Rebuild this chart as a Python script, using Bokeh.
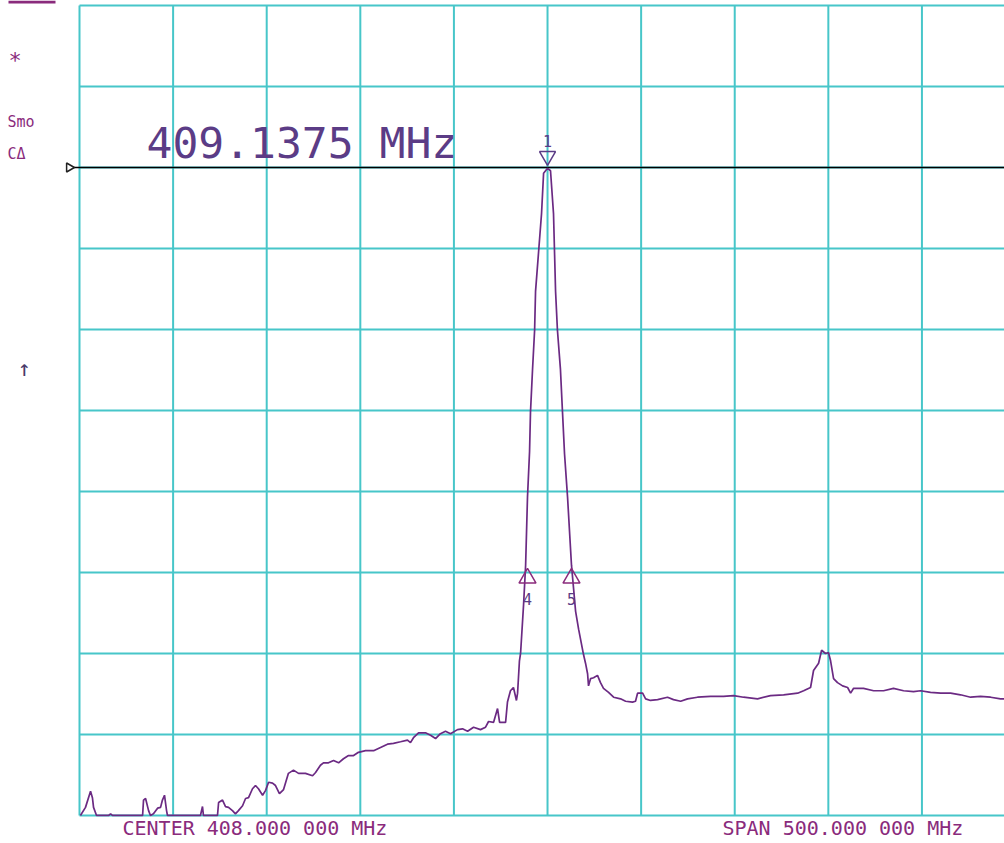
from bokeh.plotting import figure
from bokeh.models import Range1d, Label, BoxAnnotation
from bokeh.core.properties import value
from bokeh.embed import file_html
from bokeh.resources import INLINE

# ---- data (frequency in MHz, level in dB, 10 dB/div, top of screen = 0 dB) ----
center_mhz = 408.0
span_mhz = 500.0
freq_ticks = [158, 208, 258, 308, 358, 408, 458, 508, 558, 608, 658]
level_ticks = [-100, -90, -80, -70, -60, -50, -40, -30, -20, -10, 0]
ref_level = -20.0

trace_freq = [
    158.5, 161.2, 163.9, 164.9, 165.5, 167.1, 173.5, 174.6, 175.6, 191.7,
    192.2, 193.3, 194.9, 195.9, 197.5, 199.7, 201.3, 202.3, 203.4, 204.5,
    205.0, 222.6, 223.7, 224.2, 231.7, 232.3, 234.4, 236.0, 237.6, 239.7,
    241.3, 242.9, 245.1, 246.7, 248.3, 250.4, 252.0, 253.6, 255.8, 257.4,
    259.0, 261.1, 262.7, 264.8, 267.0, 269.6, 272.3, 275.0, 278.7, 282.5,
    284.1, 286.7, 288.3, 291.0, 293.7, 296.4, 299.0, 301.7, 304.4, 307.0,
    310.8, 315.1, 318.8, 322.5, 325.7, 329.5, 333.2, 334.8, 336.4, 339.1,
    342.8, 345.5, 348.2, 350.8, 353.5, 356.2, 359.9, 362.6, 365.3, 368.5,
    372.2, 374.9, 376.5, 379.2, 381.3, 382.4, 385.6, 386.6, 388.2, 389.8,
    391.4, 392.0, 393.0, 393.6, 395.2, 396.3, 397.3, 398.4, 398.9, 400.0,
    401.1, 401.6, 403.2, 404.8, 405.9, 408.0, 409.6, 411.2, 412.3, 413.3,
    414.9, 416.0, 417.1, 418.7, 420.8, 423.0, 424.6, 427.2, 428.3, 429.4,
    429.9, 431.0, 432.6, 434.7, 436.3, 437.9, 440.6, 443.3, 447.0, 449.7,
    453.4, 455.0, 456.1, 458.8, 460.4, 463.0, 466.8, 472.1, 475.3, 479.1,
    482.8, 488.1, 495.1, 502.0, 507.4, 512.7, 520.2, 527.1, 534.1, 541.6,
    544.8, 548.5, 550.1, 552.8, 554.4, 556.5, 558.1, 559.2, 560.8, 562.9,
    565.6, 568.3, 569.9, 571.5, 576.8, 582.2, 587.5, 592.8, 598.2, 603.5,
    607.3, 612.6, 618.0, 623.3, 628.6, 634.0, 639.3, 644.7, 650.0, 652.1,
]
trace_level = [
    -100.0, -99.0, -97.0, -97.8, -99.0, -100.0, -100.0, -99.8, -100.0, -100.0,
    -98.1, -97.9, -99.4, -100.0, -99.8, -99.1, -99.0, -98.1, -97.5, -99.4,
    -100.0, -100.0, -98.9, -100.0, -100.0, -98.4, -98.1, -98.9, -99.0, -99.4,
    -99.8, -99.4, -98.8, -97.9, -97.8, -96.7, -96.3, -96.7, -97.5, -96.9,
    -95.9, -96.0, -96.3, -97.3, -96.8, -94.8, -94.4, -94.8, -94.8, -95.1,
    -94.7, -93.8, -93.5, -93.5, -93.2, -93.5, -93.0, -92.6, -92.6, -92.2,
    -92.0, -92.0, -91.6, -91.2, -91.1, -90.9, -90.7, -91.0, -90.4, -89.8,
    -89.8, -90.1, -90.5, -89.9, -89.6, -89.9, -89.4, -89.3, -89.6, -89.1,
    -89.4, -89.1, -88.4, -88.5, -86.8, -88.5, -88.5, -86.0, -84.6, -84.2,
    -85.8, -84.9, -80.9, -80.0, -74.0, -69.1, -60.7, -55.1, -50.2, -44.9,
    -40.1, -35.3, -30.5, -25.7, -20.7, -20.1, -20.4, -25.7, -35.3, -40.1,
    -44.9, -50.2, -55.4, -60.7, -69.1, -74.8, -77.0, -80.1, -81.2, -82.5,
    -84.0, -83.1, -83.0, -82.7, -83.6, -84.3, -84.8, -85.4, -85.6, -85.9,
    -86.0, -85.9, -84.9, -84.9, -85.6, -85.8, -85.7, -85.4, -85.7, -85.9,
    -85.6, -85.4, -85.3, -85.3, -85.2, -85.4, -85.6, -85.2, -85.1, -84.9,
    -84.6, -84.2, -82.1, -81.2, -79.6, -80.0, -79.9, -80.9, -83.1, -83.6,
    -84.0, -84.2, -84.9, -84.3, -84.3, -84.6, -84.6, -84.3, -84.6, -84.7,
    -84.6, -84.8, -84.9, -84.9, -85.1, -85.4, -85.3, -85.4, -85.6, -85.6,
]

marker_names = ["1", "4", "5"]
marker_freq = [408.0, 397.3, 420.8]
marker_level = [-20.1, -69.1, -69.1]
marker_dir = ["down", "up", "up"]
marker_readout = "409.1375 MHz"

# ---- styling ----
GRID = "#47c6c9"
TRACE = "#6b2a83"
TEXT = "#8a2b7c"
READOUT = "#5b3c86"
MONO = "DejaVu Sans Mono"

p = figure(width=1004, height=843,
           x_range=Range1d(115.8, 652.1), y_range=Range1d(-103.46, 0.617),
           output_backend="svg", toolbar_location=None,
           x_axis_location=None, y_axis_location=None, min_border=0)
p.outline_line_color = None
p.grid.visible = False
p.background_fill_color = "white"
p.border_fill_color = "white"

# graticule
p.segment(x0=freq_ticks, x1=freq_ticks,
          y0=[level_ticks[0]] * len(freq_ticks), y1=[level_ticks[-1]] * len(freq_ticks),
          line_color=GRID, line_width=2)
p.segment(x0=[freq_ticks[0]] * len(level_ticks), x1=[freq_ticks[-1]] * len(level_ticks),
          y0=level_ticks, y1=level_ticks, line_color=GRID, line_width=2)

# reference line with its left marker
p.segment(x0=[153.5], x1=[freq_ticks[-1]], y0=[ref_level], y1=[ref_level],
          line_color="black", line_width=1.5)
p.scatter(x=[152.5], y=[ref_level], marker="triangle", angle=-1.5708, size=9,
          fill_color="white", line_color="#222222", line_width=1.5)

# trace
p.line(trace_freq, trace_level, line_color=TRACE, line_width=1.7)

# markers
down_x = [f for f, d in zip(marker_freq, marker_dir) if d == "down"]
down_y = [l + 1.5 for l, d in zip(marker_level, marker_dir) if d == "down"]
up_x = [f for f, d in zip(marker_freq, marker_dir) if d == "up"]
up_y = [l - 1.6 for l, d in zip(marker_level, marker_dir) if d == "up"]
p.scatter(down_x, down_y, marker="inverted_triangle", size=16,
          fill_color=None, line_color=READOUT, line_width=1.5)
p.scatter(up_x, up_y, marker="triangle", size=17,
          fill_color=None, line_color=TEXT, line_width=1.5)
lab_y = [l + 3.4 if d == "down" else l - 4.2 for l, d in zip(marker_level, marker_dir)]
p.text(x=marker_freq, y=lab_y, text=marker_names, text_font=value(MONO),
       text_font_size="15px", text_color=READOUT, text_align="center",
       text_baseline="middle")

# readout
p.add_layout(Label(x=146, y=843 - 167, x_units="screen", y_units="screen",
                   text=marker_readout, text_font=MONO, text_font_size="43px",
                   text_color=READOUT, text_baseline="bottom"))

# bottom annotations
p.add_layout(Label(x=122, y=843 - 839, x_units="screen", y_units="screen",
                   text="CENTER %.3f 000 MHz" % center_mhz, text_font=MONO,
                   text_font_size="20px", text_color=TEXT, text_baseline="bottom"))
p.add_layout(Label(x=722, y=843 - 839, x_units="screen", y_units="screen",
                   text="SPAN %.3f 000 MHz" % span_mhz, text_font=MONO,
                   text_font_size="20px", text_color=TEXT, text_baseline="bottom"))

# left side annotations
p.add_layout(BoxAnnotation(left=8, right=55, top=843, bottom=840,
                           left_units="screen", right_units="screen",
                           top_units="screen", bottom_units="screen",
                           fill_color=TEXT, fill_alpha=1.0, line_color=None))
for txt, x, y, size, col in [("*", 8, 72, "22px", TEXT), ("Smo", 7, 130, "15px", TEXT),
                             ("CΔ", 7, 162, "15px", TEXT), ("↑", 17, 380, "22px", "#4a3a6a")]:
    p.add_layout(Label(x=x, y=843 - y, x_units="screen", y_units="screen", text=txt,
                       text_font=MONO, text_font_size=size, text_color=col,
                       text_baseline="bottom"))

open("out.html", "w").write(file_html(p, INLINE))
